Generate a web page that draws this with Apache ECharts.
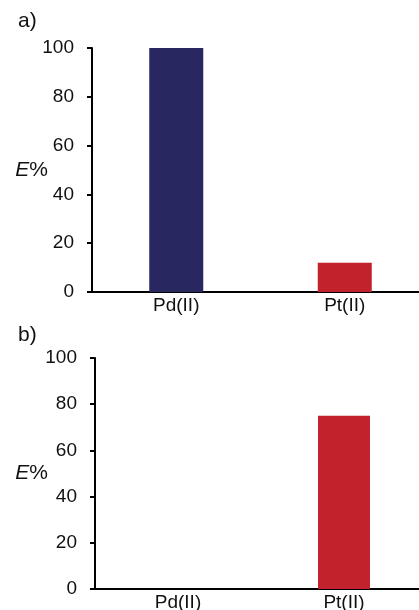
<!DOCTYPE html>
<html>
<head>
<meta charset="utf-8">
<script src="https://cdn.jsdelivr.net/npm/echarts@6/dist/echarts.min.js"></script>
<style>
  html, body { margin: 0; padding: 0; background: #fff; }
  #chart { width: 419px; height: 610px; }
</style>
</head>
<body>
<div id="chart"></div>
<script>
// data
var categories = ["Pd(II)", "Pt(II)"];
var valuesA = [100, 12];   // panel a)
var valuesB = [0, 75];     // panel b)
var barColors = ["#29275f", "#c1222b"];
var panelLabels = ["a)", "b)"];

var font = "Liberation Sans, Arial, sans-serif";

function xAxisFor(grid) {
  return {
    type: "category",
    gridIndex: grid,
    data: categories,
    axisLine: { lineStyle: { color: "#000", width: 2 } },
    axisTick: { show: false },
    axisLabel: { color: "#111", fontSize: 19, fontFamily: font, margin: 4 },
    splitLine: { show: false }
  };
}

function yAxisFor(grid, gap) {
  return {
    type: "value",
    gridIndex: grid,
    min: 0,
    max: 100,
    interval: 20,
    name: "{i|E}{n|%}",
    nameLocation: "middle",
    nameRotate: 0,
    nameGap: gap,
    nameMoveOverlap: false,
    nameTextStyle: {
      align: "right",
      rich: {
        i: { fontStyle: "italic", fontSize: 21, fontFamily: font, color: "#111" },
        n: { fontSize: 21, fontFamily: font, color: "#111" }
      }
    },
    axisLine: { show: true, lineStyle: { color: "#000", width: 2 } },
    axisTick: { show: true, length: 5, lineStyle: { color: "#000", width: 2 } },
    axisLabel: { color: "#111", fontSize: 19, fontFamily: font, margin: 18 },
    splitLine: { show: false }
  };
}

function colorByIndex(p) {
  return barColors[p.dataIndex];
}

var myChart = echarts.init(document.getElementById("chart"));

var option = {
  animation: false,
  backgroundColor: "#fff",
  grid: [
    { left: 92, top: 48, width: 337, height: 244, outerBoundsMode: "none" },
    { left: 95, top: 358, width: 332, height: 231, outerBoundsMode: "none" }
  ],
  xAxis: [xAxisFor(0), xAxisFor(1)],
  yAxis: [yAxisFor(0, 44), yAxisFor(1, 47)],
  graphic: [
    { type: "text", left: 18, top: 11, style: { text: panelLabels[0], fontSize: 21, fontFamily: font, fill: "#111" } },
    { type: "text", left: 18, top: 325, style: { text: panelLabels[1], fontSize: 21, fontFamily: font, fill: "#111" } }
  ],
  series: [
    {
      type: "bar",
      xAxisIndex: 0,
      yAxisIndex: 0,
      barWidth: 54,
      itemStyle: { color: colorByIndex },
      data: valuesA
    },
    {
      type: "bar",
      xAxisIndex: 1,
      yAxisIndex: 1,
      barWidth: 52,
      itemStyle: { color: colorByIndex },
      data: valuesB
    }
  ]
};

myChart.setOption(option);
</script>
</body>
</html>
